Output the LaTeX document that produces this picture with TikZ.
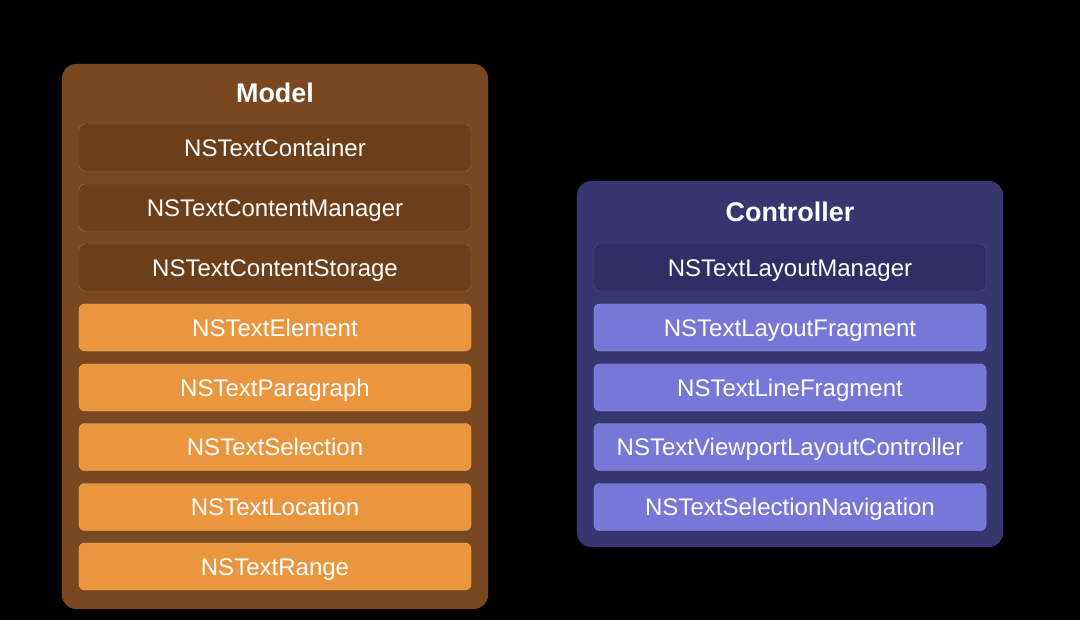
\documentclass[tikz,border=0pt]{standalone}
\usepackage{fontspec}
\setmainfont{Liberation Sans}
\usetikzlibrary{positioning}
\definecolor{modelbg}{HTML}{7A4820}
\definecolor{modeldark}{HTML}{6C3E1A}
\definecolor{modelline}{HTML}{A5652C}
\definecolor{modellight}{HTML}{EA963F}
\definecolor{ctrlbg}{HTML}{373670}
\definecolor{ctrldark}{HTML}{302E66}
\definecolor{ctrlline}{HTML}{4E4C8E}
\definecolor{ctrllight}{HTML}{7777D7}
\tikzset{group/.style={rounded corners=12pt,minimum width=12.78cm,inner sep=0pt},
item/.style={rounded corners=5pt,minimum width=11.76cm,minimum height=1.41cm,inner sep=0pt,text height=14.8pt,text depth=0pt,text=white,font=\fontsize{20.5}{24}\selectfont},
title/.style={text=white,font=\bfseries\fontsize{23}{26}\selectfont}}
\begin{document}
\begin{tikzpicture}[x=0.03cm,y=-0.03cm]
\fill[black] (0,0) rectangle (1080,620);
\node[group,fill=modelbg,minimum height=16.35cm] (model) at (275,336.5) {};
\node[group,fill=ctrlbg,minimum height=10.98cm] (ctrl) at (790,364) {};
\node[title] (mtitle) at (275,93) {Model};
\node[title] (ctitle) at (790,212) {Controller};
% model side
\node[item,fill=modeldark,draw=modelline] (m1) at (275,147.5) {NSTextContainer};
\node[item,fill=modeldark,draw=modelline] (m2) at (275,207.5) {NSTextContentManager};
\node[item,fill=modeldark,draw=modelline] (m3) at (275,267.5) {NSTextContentStorage};
\node[item,fill=modellight,draw=modellight!80!white] (m4) at (275,327.5) {NSTextElement};
\node[item,fill=modellight,draw=modellight!80!white] (m5) at (275,387.5) {NSTextParagraph};
\node[item,fill=modellight,draw=modellight!80!white] (m6) at (275,447) {NSTextSelection};
\node[item,fill=modellight,draw=modellight!80!white] (m7) at (275,507) {NSTextLocation};
\node[item,fill=modellight,draw=modellight!80!white] (m8) at (275,566.5) {NSTextRange};
% controller side
\node[item,fill=ctrldark,draw=ctrlline] (c1) at (790,267.5) {NSTextLayoutManager};
\node[item,fill=ctrllight,draw=ctrllight!80!white] (c2) at (790,327.5) {NSTextLayoutFragment};
\node[item,fill=ctrllight,draw=ctrllight!80!white] (c3) at (790,387.5) {NSTextLineFragment};
\node[item,fill=ctrllight,draw=ctrllight!80!white] (c4) at (790,447) {NSTextViewportLayoutController};
\node[item,fill=ctrllight,draw=ctrllight!80!white] (c5) at (790,507) {NSTextSelectionNavigation};
\end{tikzpicture}
\end{document}
